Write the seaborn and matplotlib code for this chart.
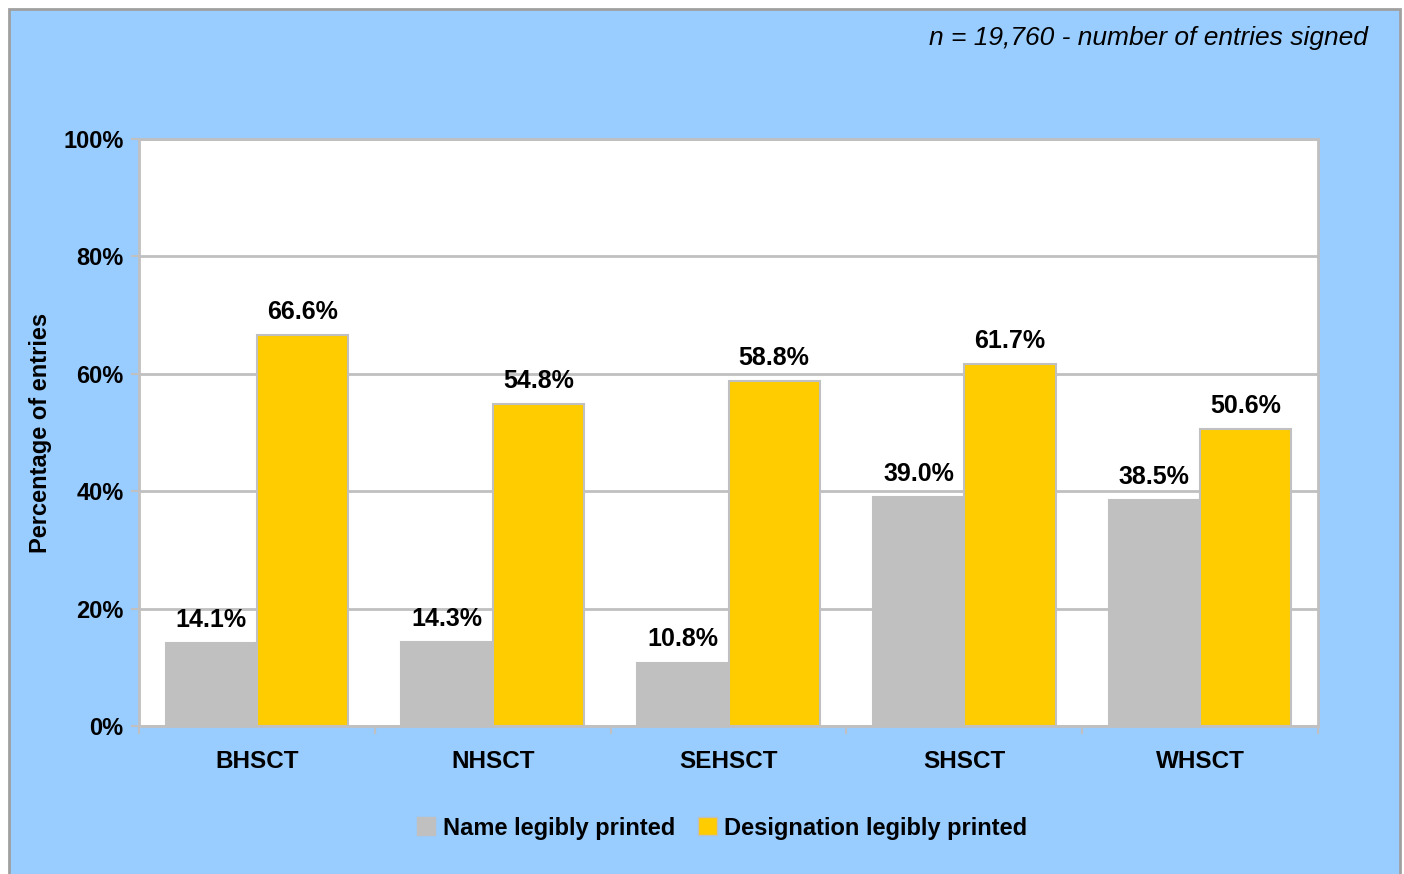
import pandas as pd
import numpy as np
import matplotlib.pyplot as plt
import seaborn as sns
from matplotlib.patches import Rectangle, Patch
from matplotlib.ticker import FixedLocator

# ── Data ──────────────────────────────────────────────────────────────────────
trusts      = ["BHSCT", "NHSCT", "SEHSCT", "SHSCT", "WHSCT"]
name_pct    = [14.1, 14.3, 10.8, 39.0, 38.5]
desig_pct   = [66.6, 54.8, 58.8, 61.7, 50.6]
series      = ["Name legibly printed", "Designation legibly printed"]
y_ticks     = [0, 20, 40, 60, 80, 100]
note        = "n = 19,760 - number of entries signed"

df = pd.DataFrame({
    "trust": trusts * 2,
    "pct": name_pct + desig_pct,
    "series": [series[0]] * len(trusts) + [series[1]] * len(trusts),
})

# ── Style ─────────────────────────────────────────────────────────────────────
sns.set_theme(style="white")
plt.rcParams["font.family"] = ["Liberation Sans", "DejaVu Sans"]
plt.rcParams["text.color"] = "black"
plt.rcParams["xtick.color"] = "black"
plt.rcParams["ytick.color"] = "black"
plt.rcParams["axes.labelcolor"] = "black"
BG    = "#99CCFF"
GRID  = "#C0C0C0"
GREY  = "#C0C0C0"
GOLD  = "#FFCC00"

fig = plt.figure(figsize=(14.04, 8.74), dpi=100, facecolor="white")
fig.patches.append(Rectangle((9 / 1404, -0.01), 1391 / 1404, 1 - 9 / 874 + 0.01,
                             transform=fig.transFigure, facecolor=BG,
                             edgecolor="#A0A0A0", linewidth=2, zorder=-10))
ax = fig.add_axes([139 / 1404, 1 - 726 / 874, 1179 / 1404, 587 / 874])
ax.set_facecolor("white")

sns.barplot(data=df, x="trust", y="pct", hue="series", order=trusts,
            hue_order=series, palette=[GREY, GOLD], width=0.775, gap=0,
            edgecolor=GRID, linewidth=1.5, saturation=1, legend=False, ax=ax)

# data labels
for cont in ax.containers:
    ax.bar_label(cont, labels=[f"{v:.1f}%" for v in cont.datavalues],
                 padding=8, fontsize=18, fontweight="bold", color="black")

ax.set_ylim(0, 100)
ax.set_xlim(-0.5, len(trusts) - 0.5)
ax.set_yticks(y_ticks)
ax.set_yticklabels([f"{t}%" for t in y_ticks], fontsize=17, fontweight="bold")
ax.yaxis.grid(True, color=GRID, linewidth=2)
ax.set_axisbelow(True)
ax.tick_params(axis="y", length=6, width=1.5, color=GRID, pad=5, left=True)
ax.tick_params(axis="x", length=0, pad=17, labelsize=17.5)
for lab in ax.get_xticklabels():
    lab.set_fontweight("bold")
# x tick marks at category boundaries
ax.xaxis.set_minor_locator(FixedLocator(np.arange(-0.5, len(trusts), 1.0)))
ax.tick_params(axis="x", which="minor", length=6, width=1.5, color=GRID, bottom=True)
for s in ax.spines.values():
    s.set_color(GRID)
    s.set_linewidth(2)

ax.set_xlabel("")
ax.set_ylabel("Percentage of entries", fontsize=17, fontweight="bold", labelpad=8)

# top note
fig.text(1368 / 1404, 1 - 38 / 874, note, ha="right", va="center",
         fontsize=19, style="italic")

# legend
handles = [Patch(facecolor=GREY, edgecolor=GREY),
           Patch(facecolor=GOLD, edgecolor=GRID)]
fig.legend(handles, series, loc="center", bbox_to_anchor=(722 / 1404, 1 - 828 / 874),
           ncol=2, frameon=False, prop={"size": 17, "weight": "bold"},
           handlelength=0.8, handleheight=0.8, handletextpad=0.3, columnspacing=1.0)

plt.savefig("out.png", dpi=100, facecolor=fig.get_facecolor())
